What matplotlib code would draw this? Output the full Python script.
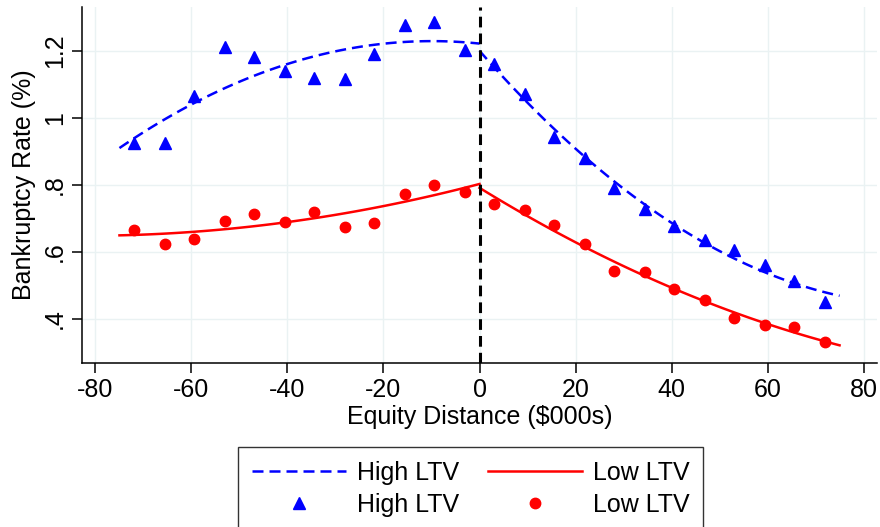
import numpy as np
import matplotlib.pyplot as plt

# binned scatter, equity distance ($000s) bin centres
x_left = [-71.9, -65.6, -59.4, -53.1, -46.9, -40.6, -34.4, -28.1, -21.9, -15.6, -9.4, -3.1]
x_right = [3.1, 9.4, 15.6, 21.9, 28.1, 34.4, 40.6, 46.9, 53.1, 59.4, 65.6, 71.9]

high_left = [0.926, 0.924, 1.066, 1.212, 1.180, 1.140, 1.117, 1.115, 1.189, 1.276, 1.285, 1.202]
high_right = [1.160, 1.071, 0.944, 0.880, 0.792, 0.728, 0.678, 0.637, 0.605, 0.561, 0.512, 0.451]
low_left = [0.666, 0.625, 0.639, 0.691, 0.713, 0.688, 0.719, 0.675, 0.687, 0.774, 0.799, 0.779]
low_right = [0.744, 0.726, 0.680, 0.625, 0.542, 0.539, 0.491, 0.456, 0.404, 0.382, 0.375, 0.332]

x_ticks = [-80, -60, -40, -20, 0, 20, 40, 60, 80]
y_ticks = [0.4, 0.6, 0.8, 1.0, 1.2]
y_tick_labels = [".4", ".6", ".8", "1", "1.2"]

BLUE = "#0000FF"
RED = "#FF0000"
GRID = "#EAF2F3"
FS = 18

plt.rcParams['font.family'] = ['Liberation Sans', 'DejaVu Sans']

fig = plt.figure(figsize=(8.8, 5.27), dpi=100)
ax = fig.add_axes([0.0932, 0.3112, 0.9034, 0.6755])

# quadratic fits on each side of the cutoff
def qfit(xs, ys, lo, hi):
  coef = np.polyfit(xs, ys, 2)
  grid = np.linspace(lo, hi, 100)
  return grid, np.polyval(coef, grid)

gx, gy = qfit(x_left, high_left, -75, 0)
ax.plot(gx, gy, color=BLUE, lw=1.8, dashes=(4.4, 2.4), zorder=3)
gx, gy = qfit(x_right, high_right, 0, 75)
hi_fit, = ax.plot(gx, gy, color=BLUE, lw=1.8, dashes=(4.4, 2.4), zorder=3)
gx, gy = qfit(x_left, low_left, -75, 0)
ax.plot(gx, gy, color=RED, lw=1.8, zorder=3)
gx, gy = qfit(x_right, low_right, 0, 75)
lo_fit, = ax.plot(gx, gy, color=RED, lw=1.8, zorder=3)

hi_pts, = ax.plot(x_left + x_right, high_left + high_right, '^', color=BLUE, ms=9, ls='none', zorder=4)
lo_pts, = ax.plot(x_left + x_right, low_left + low_right, 'o', color=RED, ms=7.5, ls='none', zorder=4)

ax.axvline(0, color='black', lw=2.2, dashes=(3.5, 2.0), zorder=5)

ax.set_xlim(-82.8, 82.8)
ax.set_ylim(0.269, 1.33)
ax.set_xticks(x_ticks)
ax.set_xticklabels([str(t) for t in x_ticks])
ax.set_yticks(y_ticks)
ax.set_yticklabels(y_tick_labels, rotation=90, va='center')
ax.tick_params(axis='both', labelsize=FS, length=7, width=1.1, color='black', pad=4)
ax.grid(True, color=GRID, lw=1.0, zorder=0)
ax.set_axisbelow(True)
ax.spines[['top', 'right']].set_visible(False)
ax.spines[['left', 'bottom']].set_linewidth(1.1)

ax.set_xlabel("Equity Distance ($000s)", fontsize=FS, labelpad=2)
ax.set_ylabel("Bankruptcy Rate (%)", fontsize=FS, labelpad=5)

# legend fills column-wise: first column High LTV, second column Low LTV
leg = fig.legend([hi_fit, hi_pts, lo_fit, lo_pts], ["High LTV", "High LTV", "Low LTV", "Low LTV"], ncol=2,
                 loc='upper center', bbox_to_anchor=(0.535, 0.152), borderaxespad=0, fontsize=FS,
                 frameon=True, fancybox=False, edgecolor='black', handlelength=3.75,
                 handletextpad=0.45, columnspacing=1.15, labelspacing=0.33, borderpad=0.55)
leg.get_frame().set_linewidth(1.0)

fig.savefig("out.png", dpi=100)
